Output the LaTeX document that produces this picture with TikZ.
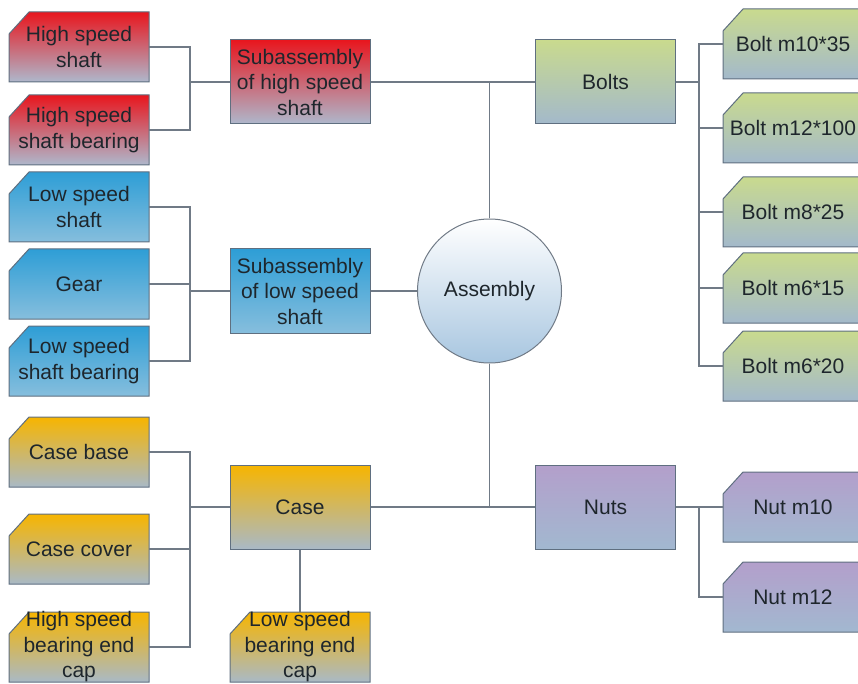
\documentclass[tikz,border=0pt]{standalone}
\usepackage{fontspec}
\setmainfont{Liberation Sans}
\usetikzlibrary{shapes.geometric}
\definecolor{redtop}{HTML}{E8161E}
\definecolor{redbot}{HTML}{AEB8CC}
\definecolor{bluetop}{HTML}{2E9ED6}
\definecolor{bluebot}{HTML}{86BEDD}
\definecolor{yeltop}{HTML}{F7B500}
\definecolor{yelbot}{HTML}{A9B9C6}
\definecolor{grntop}{HTML}{C9DA8E}
\definecolor{grnbot}{HTML}{A3B9CB}
\definecolor{purtop}{HTML}{B39FCB}
\definecolor{purbot}{HTML}{A2B8D0}
\definecolor{cirbot}{HTML}{A8C6E0}
\definecolor{edge}{HTML}{5F6F80}
\definecolor{wire}{HTML}{707A86}
\definecolor{txt}{HTML}{1E262C}
\tikzset{
  x=1pt, y=-1pt,
  every node/.style={font=\fontsize{21}{25.5}\selectfont, text=txt, align=center, inner sep=0pt},
  box/.style={rectangle, draw=edge, line width=1pt, minimum width=140pt, minimum height=84pt},
  leafn/.style={rectangle, minimum width=140pt, minimum height=70pt},
  leafshape/.style={draw=edge, line width=1pt},
  redf/.style={top color=redtop, bottom color=redbot},
  bluef/.style={top color=bluetop, bottom color=bluebot},
  yelf/.style={top color=yeltop, bottom color=yelbot},
  grnf/.style={top color=grntop, bottom color=grnbot},
  purf/.style={top color=purtop, bottom color=purbot},
  conn/.style={draw=wire, line width=1.3pt},
}
% name, x, y, fill style, text
\newcommand\leafat[5]{%
  \shadedraw[leafshape,#4] (#2-70,#3-13) -- (#2-50,#3-35) -- (#2+70,#3-35)
     -- (#2+70,#3+35) -- (#2-70,#3+35) -- cycle;
  \node[leafn] (#1) at (#2,#3) {#5};}
\begin{document}
\begin{tikzpicture}
\useasboundingbox (0,0) rectangle (858,684);
\clip (0,0) rectangle (858,684);
% left leaves
\leafat{hss}{79}{47}{redf}{High speed\\shaft}
\leafat{hsb}{79}{130}{redf}{High speed\\shaft bearing}
\leafat{lss}{79}{207}{bluef}{Low speed\\shaft}
\leafat{gear}{79}{284}{bluef}{Gear}
\leafat{lsb}{79}{361}{bluef}{Low speed\\shaft bearing}
\leafat{cbase}{79}{452}{yelf}{Case base}
\leafat{ccover}{79}{549}{yelf}{Case cover}
\leafat{hsec}{79}{647}{yelf}{High speed\\bearing end\\cap}
% middle
\node[box,redf] (subhs) at (300,82) {Subassembly\\of high speed\\shaft};
\node[box,bluef] (subls) at (300,291) {Subassembly\\of low speed\\shaft};
\node[box,yelf] (case) at (300,507) {Case};
\leafat{lsec}{300}{647}{yelf}{Low speed\\bearing end\\cap}
% assembly
\node[circle, draw=wire, line width=1pt, minimum size=144pt, top color=white, bottom color=cirbot] (asm) at (489.5,291) {Assembly};
% right middle
\node[box,grnf] (bolts) at (605.5,82) {Bolts};
\node[box,purf] (nuts) at (605.5,507) {Nuts};
% right leaves
\leafat{b1}{793}{44}{grnf}{Bolt m10*35}
\leafat{b2}{793}{128}{grnf}{Bolt m12*100}
\leafat{b3}{793}{212}{grnf}{Bolt m8*25}
\leafat{b4}{793}{288}{grnf}{Bolt m6*15}
\leafat{b5}{793}{366}{grnf}{Bolt m6*20}
\leafat{n1}{793}{507}{purf}{Nut m10}
\leafat{n2}{793}{597}{purf}{Nut m12}
% bus coordinates
\coordinate (bhs) at (190,82);
\coordinate (bls) at (190,291);
\coordinate (bcs) at (190,507);
\coordinate (btop) at (489.5,82);
\coordinate (bbot) at (489.5,507);
\coordinate (bbl) at (699,82);
\coordinate (bnt) at (699,507);
% connectors
\draw[conn] (hss.east) -| (bhs) |- (hsb.east);
\draw[conn] (bhs) -- (subhs.west);
\draw[conn] (lss.east) -| (bls) |- (lsb.east);
\draw[conn] (gear.east) -- (gear.east -| bls);
\draw[conn] (bls) -- (subls.west);
\draw[conn] (cbase.east) -| (bcs) |- (hsec.east);
\draw[conn] (ccover.east) -- (ccover.east -| bcs);
\draw[conn] (bcs) -- (case.west);
\draw[conn] (case.south) -- (lsec.north);
\draw[conn] (subhs.east) -- (bolts.west);
\draw[conn] (btop) -- (asm.north);
\draw[conn] (subls.east) -- (asm.west);
\draw[conn] (asm.south) -- (bbot);
\draw[conn] (case.east) -- (nuts.west);
\draw[conn] (bolts.east) -- (bbl);
\draw[conn] (b1.west) -| (bbl) |- (b5.west);
\draw[conn] (b2.west) -- (b2.west -| bbl);
\draw[conn] (b3.west) -- (b3.west -| bbl);
\draw[conn] (b4.west) -- (b4.west -| bbl);
\draw[conn] (nuts.east) -- (n1.west);
\draw[conn] (bnt) |- (n2.west);
\end{tikzpicture}
\end{document}
